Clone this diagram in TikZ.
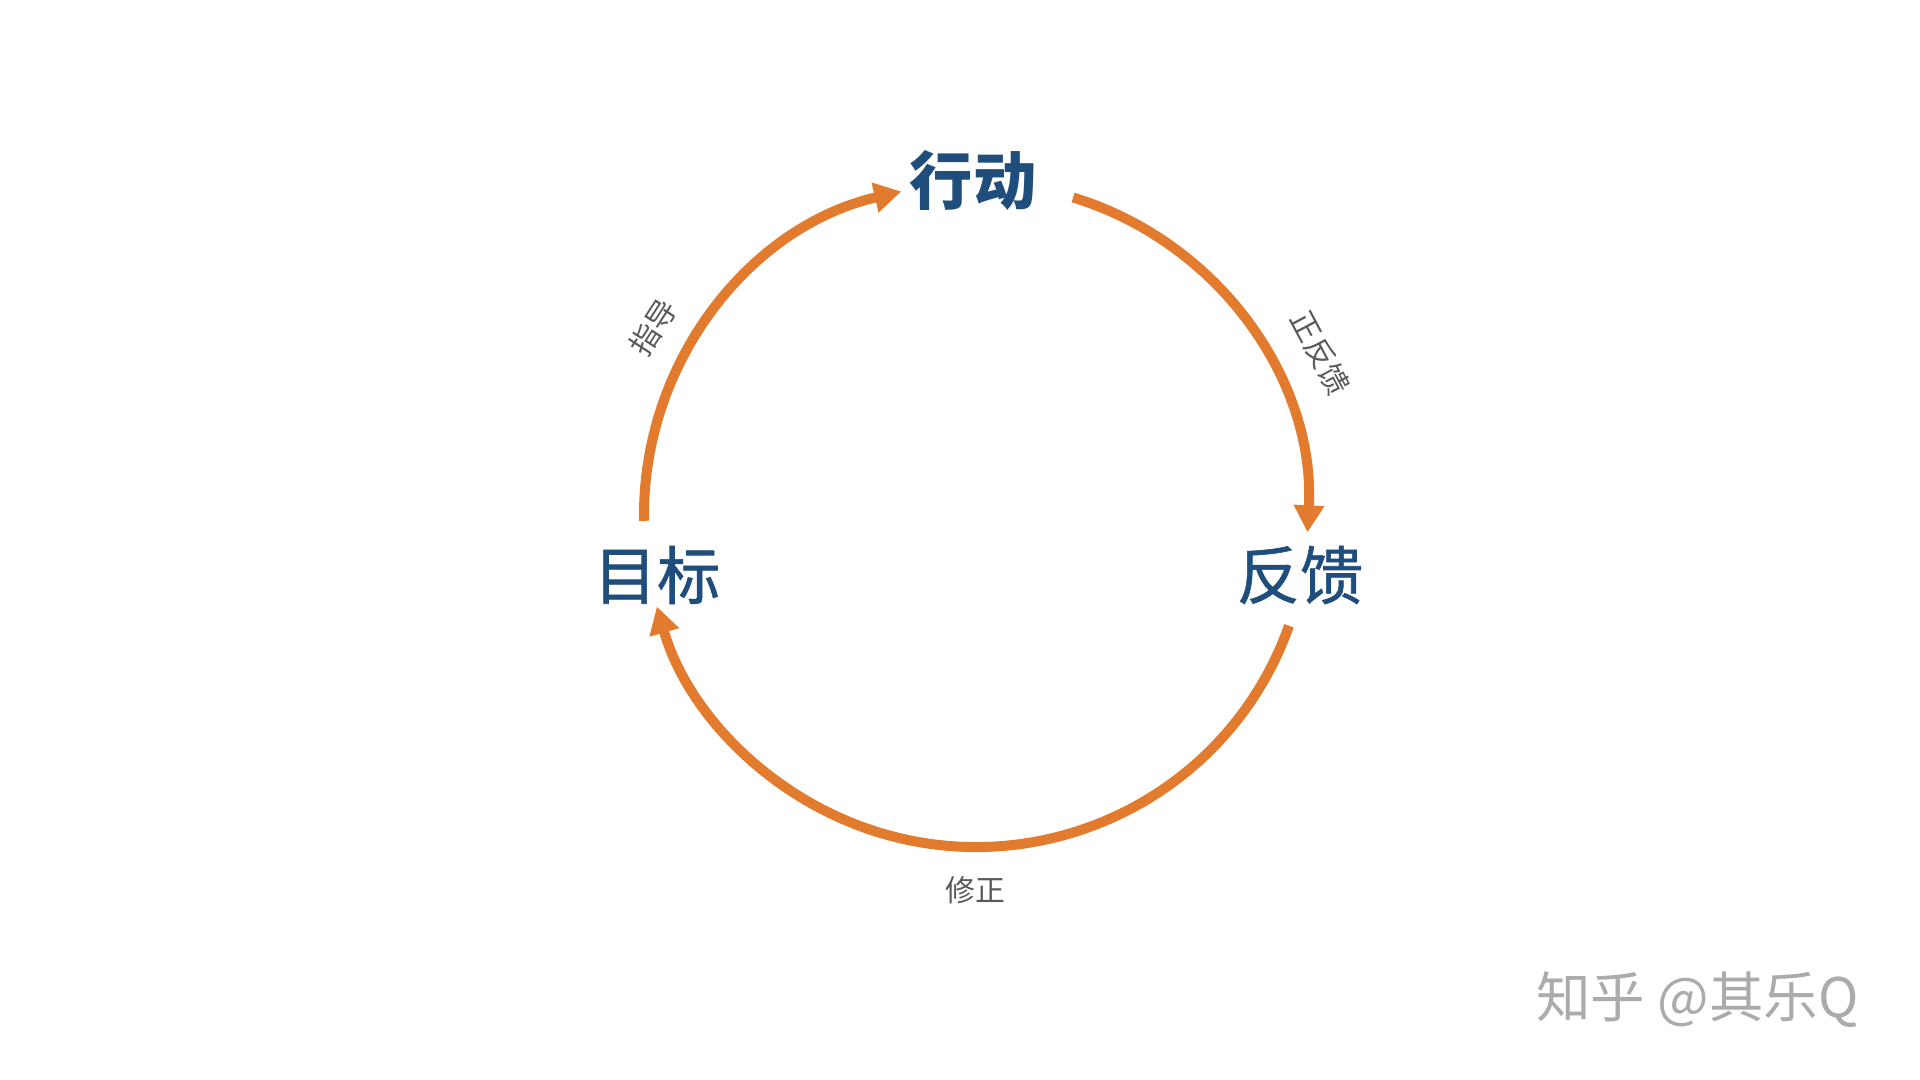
\documentclass[tikz,border=0pt]{standalone}
\usepackage{fontspec}
\newfontfamily\cjk{Noto Sans CJK SC}
\newfontfamily\cjkmid[FakeBold=0.9]{Noto Sans CJK SC}
\usetikzlibrary{arrows.meta, calc}
\definecolor{loop}{RGB}{226,123,46}
\definecolor{step}{RGB}{31,78,124}
\definecolor{note}{RGB}{90,90,90}
\tikzset{
  stage/.style={color=step, font=\cjkmid\fontsize{36}{36}\selectfont},
  tag/.style={color=note, font=\cjk\fontsize{17}{17}\selectfont},
  cycle/.style={draw=loop, line width=0.2cm, -{Triangle[length=5.4mm, width=5.8mm]}}
}

\begin{document}
\begin{tikzpicture}
\useasboundingbox (0,0) rectangle (38.4,21.6);

\coordinate (O) at (19.52,11.3);
\def\r{6.64}

\node[stage] (goal)   at (13.14,10.1) {目标};
\node[stage] (act)    at (19.46,18.0) {\cjk\bfseries 行动};
\node[stage] (fb)     at (26.0,10.1)  {反馈};

\node[tag, rotate=57]  (guide) at (13.06,15.06) {指导};
\node[tag, rotate=-62] (pos)   at (26.4,14.54)  {正反馈};
\node[tag]             (fix)   at (19.5,3.8)    {修正};

\coordinate (g1) at ($(O)+(181:\r)$);
\coordinate (a1) at ($(O)+(73:\r)$);
\coordinate (f1) at ($(O)+(-19.5:\r)$);

\draw[cycle] (g1) arc[start angle=181, end angle=103, radius=\r];
\draw[cycle] (a1) arc[start angle=73, end angle=-3, radius=\r];
\draw[cycle] (f1) arc[start angle=-19.5, end angle=-164, radius=\r];

\node[color=black!33, font=\cjk\fontsize{31}{31}\selectfont] (mark) at (33.95,1.6) {知乎 @其乐Q};
\end{tikzpicture}
\end{document}
